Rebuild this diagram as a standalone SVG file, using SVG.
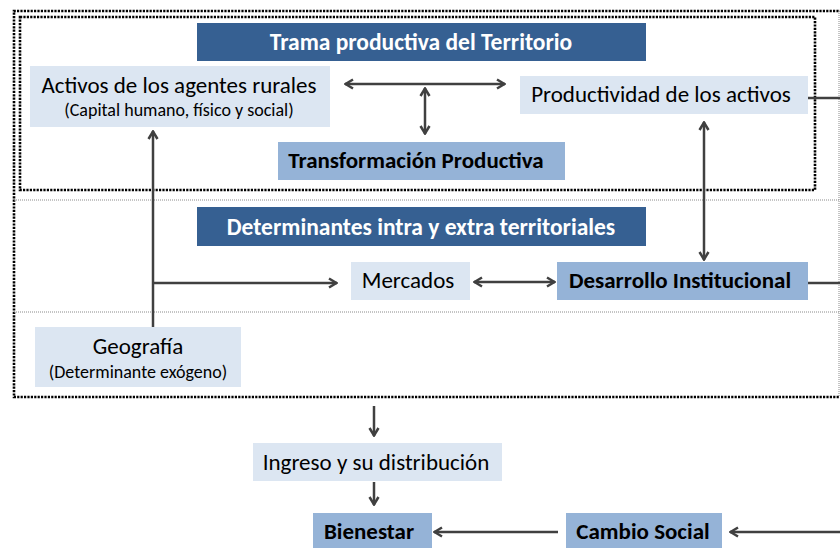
<svg xmlns="http://www.w3.org/2000/svg" width="840" height="548" viewBox="0 0 840 548">
<defs>
<marker id="ah" viewBox="0 0 12 12" refX="11" refY="6" markerWidth="12" markerHeight="12" markerUnits="userSpaceOnUse" orient="auto-start-reverse">
<path d="M3,1.5 L10.5,6 L3,10.5" fill="none" stroke="#404040" stroke-width="2.5"/>
</marker>
</defs>
<style>
.heavy{fill:none;stroke:#000;stroke-width:2.6;stroke-dasharray:2.2 1.2}
.thin{fill:none;stroke:#8a8a8a;stroke-width:1;stroke-dasharray:1 1}
.dark{fill:#366092}
.light{fill:#DCE6F2}
.mid{fill:#95B3D7}
text{font-family:Calibri,Carlito,Lato,"Liberation Sans",sans-serif;text-anchor:middle}
.tw{fill:#fff;font-weight:bold;font-size:23.5px}
.tn{fill:#000;font-size:23px}
.ts{fill:#000;font-size:18px}
.tb{fill:#000;font-weight:bold;font-size:23px}
.c{fill:none;stroke:#404040;stroke-width:2.5}
</style>
<rect width="840" height="548" fill="#fff"/>
<g id="frames">
<path class="heavy" d="M842,11 L14,11 L14,397 L842,397"/>
<rect class="heavy" x="20" y="17" width="795" height="173"/>
<line class="thin" x1="14" y1="200" x2="840" y2="200"/>
<line class="thin" x1="14" y1="312" x2="840" y2="312"/>
<line class="thin" x1="839" y1="11" x2="839" y2="397"/>
</g>
<g id="connectors">
<line class="c" x1="345" y1="84" x2="505" y2="84" marker-start="url(#ah)" marker-end="url(#ah)"/>
<line class="c" x1="425" y1="88" x2="425" y2="134" marker-start="url(#ah)" marker-end="url(#ah)"/>
<line class="c" x1="153" y1="327" x2="153" y2="131" marker-end="url(#ah)"/>
<line class="c" x1="153" y1="283" x2="337" y2="283" marker-end="url(#ah)"/>
<line class="c" x1="474" y1="282" x2="555" y2="282" marker-start="url(#ah)" marker-end="url(#ah)"/>
<line class="c" x1="704" y1="122" x2="704" y2="260" marker-start="url(#ah)" marker-end="url(#ah)"/>
<line class="c" x1="808" y1="98" x2="840" y2="98"/>
<line class="c" x1="808" y1="283" x2="840" y2="283"/>
<line class="c" x1="374" y1="406" x2="374" y2="436" marker-end="url(#ah)"/>
<line class="c" x1="374" y1="482" x2="374" y2="505" marker-end="url(#ah)"/>
<line class="c" x1="558" y1="532" x2="434" y2="532" marker-end="url(#ah)"/>
<line class="c" x1="842" y1="532" x2="730" y2="532" marker-end="url(#ah)"/>
</g>
<g id="trama-title">
<rect class="dark" x="197" y="23" width="449" height="38"/>
<text class="tw" x="421" y="50">Trama productiva del Territorio</text>
</g>
<g id="activos">
<rect class="light" x="30" y="66" width="300" height="61"/>
<text class="tn" x="179" y="93">Activos de los agentes rurales</text>
<text class="ts" x="179" y="116">(Capital humano, físico y social)</text>
</g>
<g id="productividad">
<rect class="light" x="520" y="76" width="288" height="38"/>
<text class="tn" x="661" y="102">Productividad de los activos</text>
</g>
<g id="transformacion">
<rect class="mid" x="278" y="142" width="287" height="38"/>
<text class="tb" x="416" y="168">Transformación Productiva</text>
</g>
<g id="determinantes-title">
<rect class="dark" x="197" y="207" width="449" height="39"/>
<text class="tw" x="421" y="235">Determinantes intra y extra territoriales</text>
</g>
<g id="mercados">
<rect class="light" x="351" y="262" width="119" height="38"/>
<text class="tn" x="408" y="288">Mercados</text>
</g>
<g id="desarrollo">
<rect class="mid" x="557" y="262" width="251" height="38"/>
<text class="tb" x="680" y="288">Desarrollo Institucional</text>
</g>
<g id="geografia">
<rect class="light" x="35" y="327" width="206" height="60"/>
<text class="tn" x="138" y="354">Geografía</text>
<text class="ts" x="138" y="378">(Determinante exógeno)</text>
</g>
<g id="ingreso">
<rect class="light" x="253" y="443" width="249" height="38"/>
<text class="tn" x="376" y="470">Ingreso y su distribución</text>
</g>
<g id="bienestar">
<rect class="mid" x="313" y="513" width="119" height="38"/>
<text class="tb" x="369" y="539">Bienestar</text>
</g>
<g id="cambio">
<rect class="mid" x="566" y="513" width="156" height="38"/>
<text class="tb" x="643" y="539">Cambio Social</text>
</g>
</svg>
